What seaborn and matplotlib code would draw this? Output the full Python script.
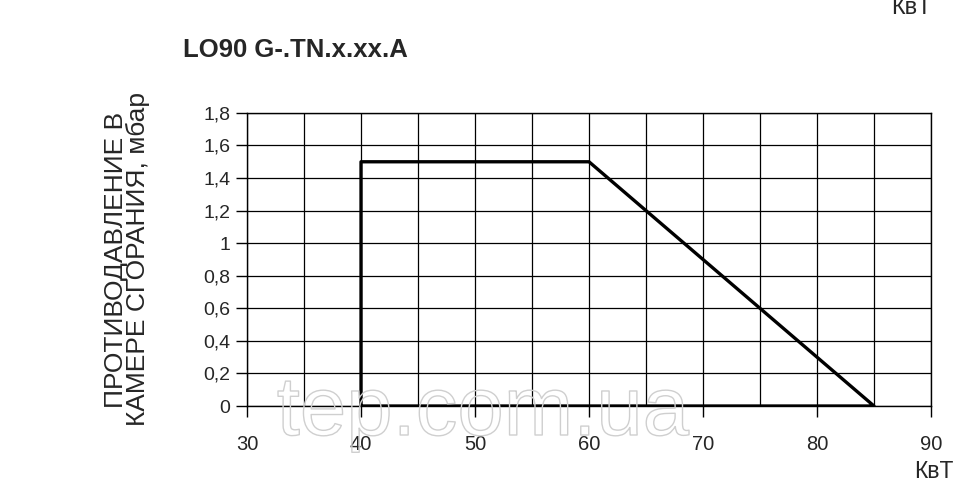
import matplotlib
matplotlib.use("Agg")
import matplotlib.pyplot as plt
import matplotlib.patheffects as pe
from matplotlib.ticker import MultipleLocator, FuncFormatter
import seaborn as sns
import pandas as pd

# working range polygon of the burner
power_kw = [40, 40, 60, 85, 40]
pressure_mbar = [0, 1.5, 1.5, 0, 0]

title = "LO90 G-.TN.x.xx.A"
y_label = "ПРОТИВОДАВЛЕНИЕ В\nКАМЕРЕ СГОРАНИЯ, мбар"
x_unit = "КвТ"

sns.set_style("white")
plt.rcParams["font.family"] = ["Liberation Sans", "DejaVu Sans"]

fig = plt.figure(figsize=(9.71, 5.01), dpi=100)
ax = fig.add_axes([0.2544, 0.1896, 0.7044, 0.585])

df = pd.DataFrame({"kw": power_kw, "mbar": pressure_mbar})
sns.lineplot(data=df, x="kw", y="mbar", sort=False, estimator=None,
             color="black", linewidth=2.4, ax=ax, zorder=3)

ax.set_xlim(30, 90)
ax.set_ylim(0, 1.8)
ax.xaxis.set_major_locator(MultipleLocator(10))
ax.xaxis.set_minor_locator(MultipleLocator(5))
ax.yaxis.set_major_locator(MultipleLocator(0.2))
ax.yaxis.set_major_formatter(FuncFormatter(
    lambda v, p: "0" if abs(v) < 1e-9 else ("1" if abs(v - 1) < 1e-9 else f"{v:.1f}".replace(".", ","))))

ax.grid(True, which="both", color="black", linewidth=0.9)
for s in ax.spines.values():
    s.set_color("black")
    s.set_linewidth(1.0)

ax.tick_params(axis="x", which="major", direction="out", length=8, width=1,
               color="black", labelsize=14.5, pad=13)
ax.tick_params(axis="x", which="minor", length=0)
ax.tick_params(axis="y", direction="out", length=8, width=1,
               color="black", labelsize=14, pad=4)
ax.tick_params(left=True, bottom=True)

ax.set_xlabel("")
ax.set_ylabel(y_label, fontsize=19, linespacing=0.92, labelpad=38)

fig.text(183 / 971, 1 - 50 / 501, title, fontsize=18.5, fontweight="bold",
         ha="left", va="center")
fig.text(934 / 971, 1 - 472 / 501, x_unit, fontsize=16.5, ha="center", va="center")
fig.text(911 / 971, 1 - 14 / 501, x_unit, fontsize=17, ha="center", va="baseline")

# watermark
fig.text(483 / 971, 1 - 413 / 501, "tep.com.ua", fontsize=60, color="none",
         ha="center", va="center", zorder=10,
         path_effects=[pe.Stroke(linewidth=1.0, foreground="#cfcfcf")])

fig.savefig("out.png", dpi=100)
